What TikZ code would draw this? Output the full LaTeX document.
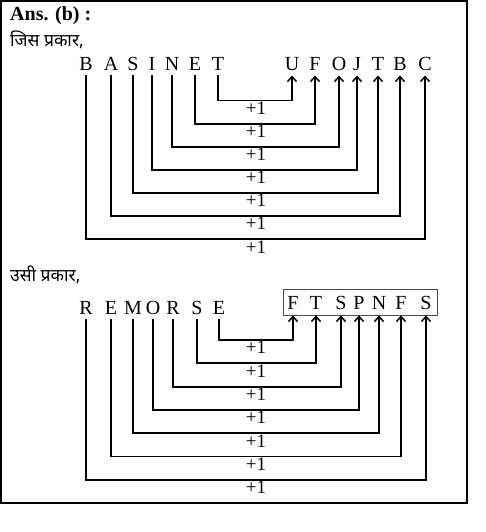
\documentclass[tikz,border=0pt]{standalone}
\usepackage{fontspec}
\setmainfont{Liberation Serif}
\newfontfamily\devafont[Script=Devanagari]{Noto Sans}
\usepackage{tikz}
\usetikzlibrary{arrows.meta}
\tikzset{
  letter/.style={
    anchor=base, inner sep=1pt, outer sep=3.5pt,
    text height=13pt, text depth=0pt, font=\fontsize{20}{20}\selectfont
  },
  link/.style={draw, line width=1.9pt, line cap=butt},
  arrowlink/.style={link, -{Straight Barb[length=5pt, width=9pt, line width=1.5pt]}},
  plus/.style={below, inner sep=1.2pt, font=\fontsize{19}{19}\selectfont},
  heading/.style={anchor=base west, inner sep=0pt, font=\fontsize{20}{20}\selectfont},
  devaheading/.style={heading, font=\fontsize{17.5}{20}\devafont},
  wordbox/.style={draw=black!70, line width=0.8pt, inner sep=0pt},
}

\begin{document}
\begin{tikzpicture}[x=1pt, y=-1pt]
  \useasboundingbox (0,0) rectangle (486,532);
  \draw[line width=1.3pt] (1,1) rectangle (467,503);

  % headings
  \node[heading] (ans) at (10,21) {\bfseries Ans. (b) :};
  \node[devaheading] (same1) at (10,47) {जिस प्रकार,};
  \node[devaheading] (same2) at (10,281) {उसी प्रकार,};

  % first word and its code
  \foreach \ch/\x [count=\i] in {B/86, A/111, S/133, I/152, N/172, E/195, T/218}
    \node[letter] (ta\i) at (\x,71) {\ch};
  \foreach \ch/\x [count=\i] in {U/292, F/315, O/339, J/357, T/378, B/400, C/425}
    \node[letter] (tb\i) at (\x,71) {\ch};
  \foreach \k/\m in {1/7, 2/6, 3/5, 4/4, 5/3, 6/2, 7/1} {
    \coordinate (th\k) at ({256},{100.5+23.1*(\k-1)});
    \node[plus] (tp\k) at (th\k) {+1};
    \path[arrowlink] (ta\m.south) |- (th\k) -| (tb\k.south);
  }

  % second word and its code
  \foreach \ch/\x [count=\i] in {R/86, E/111, M/133, O/153, R/173, S/197, E/219}
    \node[letter] (ba\i) at (\x,314) {\ch};
  \foreach \ch/\x [count=\i] in {F/293, T/316, S/341, P/359, N/379, F/401, S/426}
    \node[letter] (bb\i) at (\x,309.5) {\ch};
  \node[wordbox, minimum width=154pt, minimum height=26pt] (code) at (360,302) {};
  \foreach \k/\m in {1/7, 2/6, 3/5, 4/4, 5/3, 6/2, 7/1} {
    \coordinate (bh\k) at ({256},{340+23.3*(\k-1)});
    \node[plus] (bp\k) at (bh\k) {+1};
    \path[arrowlink] (ba\m.south) |- (bh\k) -| (bb\k |- code.south);
  }
\end{tikzpicture}
\end{document}
